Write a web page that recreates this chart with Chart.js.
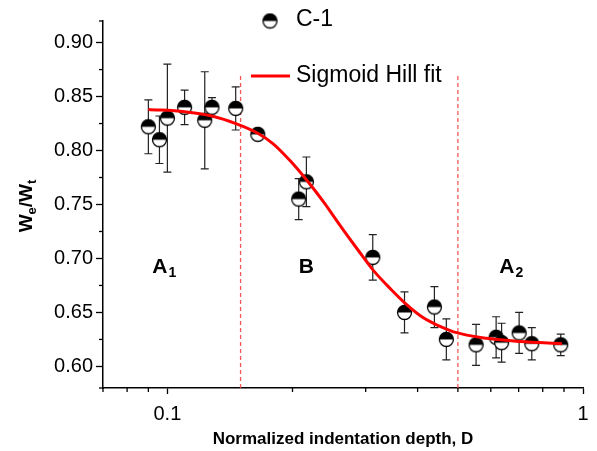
<!DOCTYPE html>
<html>
<head>
<meta charset="utf-8">
<script src="https://cdn.jsdelivr.net/npm/chart.js@4/dist/chart.umd.min.js"></script>
<style>
  html, body { margin: 0; padding: 0; background: #fff; }
  #wrap { width: 597px; height: 451px; }
</style>
</head>
<body>
<div id="wrap"><canvas id="chart"></canvas></div>
<script>
// ===== Data =====
const depth    = [0.090, 0.0957, 0.100, 0.110, 0.123, 0.128, 0.146, 0.165, 0.207, 0.216, 0.312, 0.372, 0.439, 0.469, 0.553, 0.618, 0.637, 0.702, 0.753, 0.884];
const ratio    = [0.822, 0.810, 0.830, 0.840, 0.828, 0.840, 0.839, 0.815, 0.755, 0.771, 0.701, 0.650, 0.655, 0.625, 0.620, 0.627, 0.622, 0.631, 0.621, 0.620];
const ratioErr = [0.025, 0.022, 0.050, 0.016, 0.045, 0.009, 0.020, 0.003, 0.019, 0.023, 0.021, 0.019, 0.019, 0.019, 0.019, 0.019, 0.018, 0.019, 0.015, 0.010];

const fitDepth = [0.090, 0.110, 0.128, 0.146, 0.165, 0.180, 0.198, 0.217, 0.238, 0.261, 0.286, 0.313, 0.344, 0.377, 0.413, 0.453, 0.488, 0.587, 0.706, 0.890];
const fitRatio = [0.838, 0.836, 0.832, 0.825, 0.816, 0.806, 0.790, 0.772, 0.752, 0.730, 0.709, 0.689, 0.672, 0.657, 0.645, 0.637, 0.632, 0.626, 0.623, 0.621];

const boundaries = [0.15, 0.5];
const boundaryTop = 0.87;

const xTickValues = [0.1, 1];
const xMinorTicks = [0.07, 0.08, 0.09, 0.2, 0.3, 0.4, 0.5, 0.6, 0.7, 0.8, 0.9];
const yTickValues = [0.60, 0.65, 0.70, 0.75, 0.80, 0.85, 0.90];
const yMinorTicks = [0.625, 0.675, 0.725, 0.775, 0.825, 0.875, 0.58, 0.92];

const regionNames = ["A", "B", "A"];
const regionSubs  = ["1", "", "2"];
const regionDepth = [0.098, 0.216, 0.67];
const regionLevel = 0.694;

const FONT = "'Liberation Sans', Arial, sans-serif";
Chart.defaults.font.family = FONT;
Chart.defaults.color = "#000";

// ===== Half filled marker =====
function makeMarker() {
  const c = document.createElement("canvas");
  c.width = 17; c.height = 17;
  const g = c.getContext("2d");
  const r = 7, cx = 8.5, cy = 8.5;
  g.fillStyle = "#fff";
  g.beginPath(); g.arc(cx, cy, r, 0, Math.PI * 2); g.fill();
  g.fillStyle = "#000";
  g.beginPath(); g.arc(cx, cy, r, Math.PI, 0); g.closePath(); g.fill();
  g.strokeStyle = "#000"; g.lineWidth = 1.3;
  g.beginPath(); g.arc(cx, cy, r, 0, Math.PI * 2); g.stroke();
  return c;
}
const marker = makeMarker();

// ===== Plugins =====
const extras = {
  id: "extras",
  beforeDatasetsDraw(chart) {
    const { ctx, scales: { x, y } } = chart;
    ctx.save();
    // error bars
    ctx.strokeStyle = "#222";
    ctx.lineWidth = 1.2;
    depth.forEach((d, i) => {
      const px = x.getPixelForValue(d);
      const top = y.getPixelForValue(ratio[i] + ratioErr[i]);
      const bot = y.getPixelForValue(ratio[i] - ratioErr[i]);
      ctx.beginPath();
      ctx.moveTo(px, top); ctx.lineTo(px, bot);
      ctx.moveTo(px - 4, top); ctx.lineTo(px + 4, top);
      ctx.moveTo(px - 4, bot); ctx.lineTo(px + 4, bot);
      ctx.stroke();
    });
    // minor ticks
    ctx.strokeStyle = "#000";
    ctx.lineWidth = 1.3;
    xMinorTicks.forEach(v => {
      const px = x.getPixelForValue(v);
      ctx.beginPath(); ctx.moveTo(px, x.top); ctx.lineTo(px, x.top + 4); ctx.stroke();
    });
    yMinorTicks.forEach(v => {
      const py = y.getPixelForValue(v);
      ctx.beginPath(); ctx.moveTo(y.right, py); ctx.lineTo(y.right - 4, py); ctx.stroke();
    });
    ctx.restore();
  },
  afterDraw(chart) {
    const { ctx, scales: { x, y } } = chart;
    ctx.save();
    ctx.fillStyle = "#000";
    ctx.textBaseline = "alphabetic";

    // region labels
    regionNames.forEach((name, i) => {
      ctx.font = "bold 21px " + FONT;
      const w1 = ctx.measureText(name).width;
      ctx.font = "bold 14px " + FONT;
      const w2 = regionSubs[i] ? ctx.measureText(regionSubs[i]).width : 0;
      const left = x.getPixelForValue(regionDepth[i]) - (w1 + w2) / 2;
      const base = y.getPixelForValue(regionLevel) + 8;
      ctx.font = "bold 21px " + FONT;
      ctx.fillText(name, left, base);
      if (regionSubs[i]) {
        ctx.font = "bold 14px " + FONT;
        ctx.fillText(regionSubs[i], left + w1 + 1, base + 4);
      }
    });

    // y axis title with subscripts
    ctx.translate(32, 206);
    ctx.rotate(-Math.PI / 2);
    const parts = [["W", 19, 0], ["e", 13, 4], ["/W", 19, 0], ["t", 13, 4]];
    let total = 0;
    parts.forEach(p => { ctx.font = "bold " + p[1] + "px " + FONT; total += ctx.measureText(p[0]).width; });
    let cx = -total / 2;
    parts.forEach(p => {
      ctx.font = "bold " + p[1] + "px " + FONT;
      ctx.fillText(p[0], cx, p[2]);
      cx += ctx.measureText(p[0]).width;
    });
    ctx.setTransform(1, 0, 0, 1, 0, 0);

    // legend
    ctx.drawImage(marker, 270 - 8.5, 21 - 8.5);
    ctx.font = "23px " + FONT;
    ctx.textBaseline = "middle";
    ctx.fillText(chart.data.datasets[0].label, 296, 20);
    ctx.strokeStyle = "#ff0000";
    ctx.lineWidth = 3;
    ctx.beginPath(); ctx.moveTo(251, 76); ctx.lineTo(290, 76); ctx.stroke();
    ctx.fillText(chart.data.datasets[1].label, 296, 76);
    ctx.restore();
  }
};

// ===== Datasets =====
const points = depth.map((d, i) => ({ x: d, y: ratio[i] }));
const fit = fitDepth.map((d, i) => ({ x: d, y: fitRatio[i] }));
const dashed = boundaries.map(b => ({
  label: "",
  data: [{ x: b, y: 0.58 }, { x: b, y: boundaryTop }],
  showLine: true,
  borderColor: "rgba(245,70,70,0.9)",
  borderWidth: 1.3,
  borderDash: [4, 3],
  pointRadius: 0,
  order: 3
}));

new Chart(document.getElementById("chart"), {
  type: "scatter",
  data: {
    datasets: [
      {
        label: "C-1",
        data: points,
        pointStyle: marker,
        pointRadius: 8,
        order: 2
      },
      {
        label: "Sigmoid Hill fit",
        data: fit,
        showLine: true,
        borderColor: "#ff0000",
        borderWidth: 3,
        pointRadius: 0,
        cubicInterpolationMode: "monotone",
        order: 1
      },
      ...dashed
    ]
  },
  options: {
    responsive: true,
    maintainAspectRatio: false,
    animation: false,
    layout: { padding: { top: 21, right: 14, left: 0, bottom: 0 } },
    plugins: { legend: { display: false }, tooltip: { enabled: false } },
    scales: {
      x: {
        type: "logarithmic",
        min: 0.07,
        max: 1,
        afterBuildTicks: s => { s.ticks = xTickValues.map(v => ({ value: v })); },
        afterFit: s => { s.height = 63; },
        ticks: { font: { size: 20 }, padding: 8, callback: v => String(v) },
        grid: { drawOnChartArea: false, drawTicks: true, tickLength: 6, color: "#000", tickWidth: 1.3 },
        border: { display: true, color: "#000", width: 1.5 },
        title: {
          display: true,
          text: "Normalized indentation depth, D",
          font: { size: 17, weight: "bold" },
          padding: { top: 0, bottom: 1 }
        }
      },
      y: {
        min: 0.58,
        max: 0.92,
        afterBuildTicks: s => { s.ticks = yTickValues.map(v => ({ value: v })); },
        afterFit: s => { s.width = 103; },
        ticks: { font: { size: 20 }, padding: 3, callback: v => v.toFixed(2) },
        grid: { drawOnChartArea: false, drawTicks: true, tickLength: 7, color: "#000", tickWidth: 1.3 },
        border: { display: true, color: "#000", width: 1.5 }
      }
    }
  },
  plugins: [extras]
});
</script>
</body>
</html>
